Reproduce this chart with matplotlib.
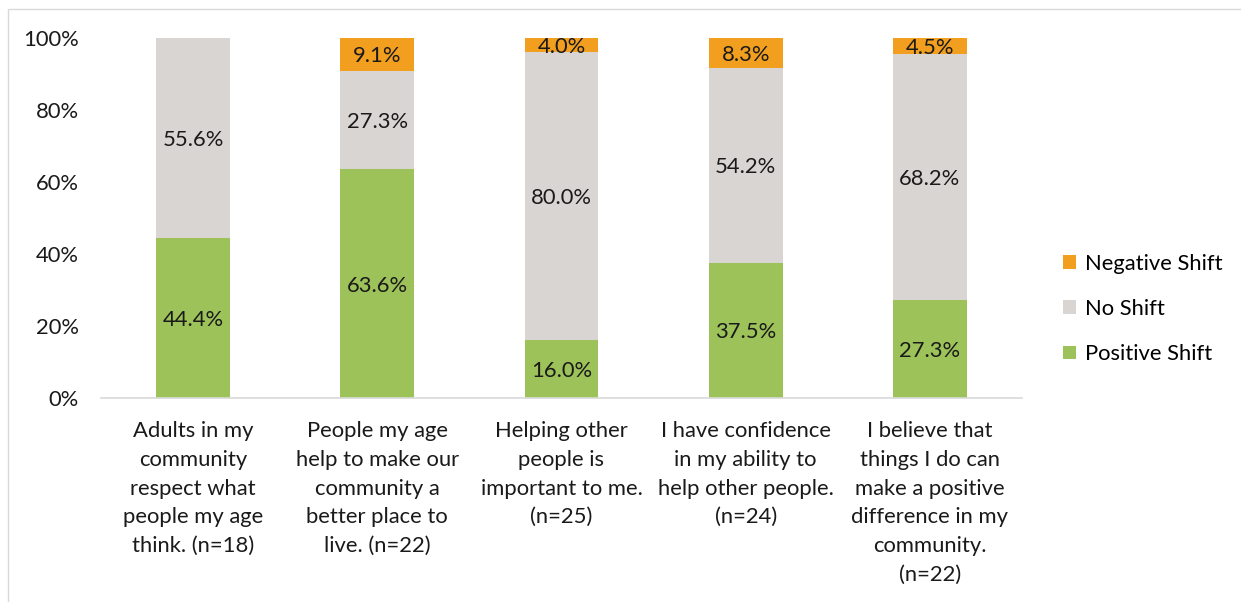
import numpy as np
import matplotlib.pyplot as plt
from matplotlib.patches import Rectangle

plt.rcParams['font.family'] = ['Lato', 'DejaVu Sans']

# Survey items and shift percentages
categories = [
    "Adults in my\ncommunity\nrespect what\npeople my age\nthink. (n=18)",
    "People my age\nhelp to make our\ncommunity a\nbetter place to\nlive. (n=22)",
    "Helping other\npeople is\nimportant to me.\n(n=25)",
    "I have confidence\nin my ability to\nhelp other people.\n(n=24)",
    "I believe that\nthings I do can\nmake a positive\ndifference in my\ncommunity.\n(n=22)",
]
positive_shift = [44.4, 63.6, 16.0, 37.5, 27.3]
no_shift = [55.6, 27.3, 80.0, 54.2, 68.2]
negative_shift = [0.0, 9.1, 4.0, 8.3, 4.5]

GREEN = '#9DC25A'
GRAY = '#D9D5D2'
ORANGE = '#F29F1F'
TEXT = '#1A1A1A'
FS = 15.8

fig = plt.figure(figsize=(12.41, 6.02), dpi=100)
ax = fig.add_axes([101 / 1241, 1 - 398 / 602, 921 / 1241, 360 / 602])

# thin chart-area border
fig.patches.append(Rectangle((8 / 1241, -0.05), 1.2, (602 - 9) / 602 + 0.05,
                             transform=fig.transFigure, fill=False,
                             edgecolor='#D9D9D9', linewidth=1.0))

x = np.arange(len(categories))
width = 0.4
pos = np.array(positive_shift)
non = np.array(no_shift)
neg = np.array(negative_shift)

b1 = ax.bar(x, pos, width, color=GREEN, label='Positive Shift')
b2 = ax.bar(x, non, width, bottom=pos, color=GRAY, label='No Shift')
b3 = ax.bar(x, neg, width, bottom=pos + non, color=ORANGE, label='Negative Shift')

for vals, bottoms in [(pos, np.zeros(len(x))), (non, pos), (neg, pos + non)]:
    for xi, v, b in zip(x, vals, bottoms):
        if v > 0:
            ax.text(xi, b + v / 2, f"{v:.1f}%", ha='center', va='center_baseline',
                    fontsize=FS, color=TEXT)

ax.set_xlim(-0.5, len(categories) - 0.5)
ax.set_ylim(0, 100)
ax.set_yticks(range(0, 101, 20))
ax.set_yticklabels([f"{t}%" for t in range(0, 101, 20)], fontsize=FS, color=TEXT)
ax.set_xticks(x)
ax.set_xticklabels(categories, fontsize=FS, color=TEXT, linespacing=1.55, va='top')
ax.tick_params(axis='both', length=0)
ax.tick_params(axis='y', pad=16)
ax.tick_params(axis='x', pad=16.5)

for side in ['top', 'right', 'left']:
    ax.spines[side].set_visible(False)
ax.spines['bottom'].set_color('#D9D9D9')
ax.spines['bottom'].set_linewidth(1.2)

handles = [b3, b2, b1]
fig.legend(handles, [h.get_label() for h in handles],
           loc='center left', bbox_to_anchor=(1043 / 1241, 1 - 309 / 602),
           frameon=False, fontsize=FS, handlelength=0.6, handleheight=0.6,
           labelspacing=1.15, handletextpad=0.4)

fig.savefig('out.png', dpi=100)
